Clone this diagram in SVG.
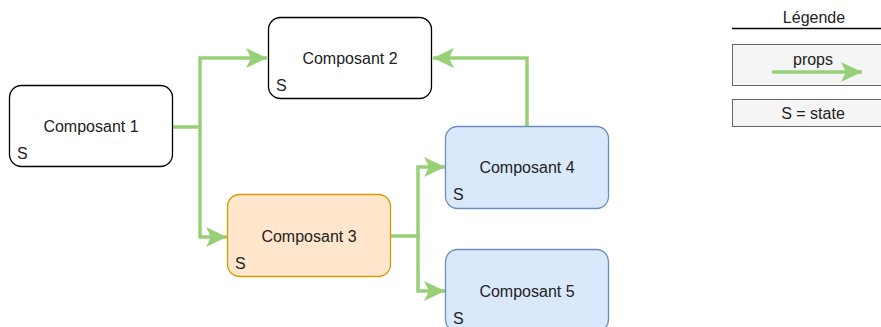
<svg xmlns="http://www.w3.org/2000/svg" width="881" height="327" viewBox="0 0 881 327">
<style>
text{font-family:"Liberation Sans",Arial,sans-serif;font-size:16px;fill:#222}
.c{text-anchor:middle}
.box{stroke-width:1.3}
.w{fill:#fff;stroke:#000}
.o{fill:#ffe6cc;stroke:#d79b00}
.b{fill:#dae8fc;stroke:#6c8ebf}
.lg{fill:#f5f5f5;stroke:#666}
.e{fill:none;stroke:#97d077;stroke-width:3.5}
</style>
<defs>
<marker id="ar" markerUnits="userSpaceOnUse" markerWidth="24" markerHeight="24" viewBox="0 0 24 24" refX="22" refY="12" orient="auto">
<path d="M1,2 L22,12 L1,22 L6,12 Z" fill="#97d077"/>
</marker>
</defs>
<rect width="881" height="327" fill="#fff"/>
<g id="connectors">
<path class="e" d="M173,127 H200 V58 H267" marker-end="url(#ar)"/>
<path class="e" d="M200,127 V237 H227" marker-end="url(#ar)"/>
<path class="e" d="M391,236 H418 V167 H445" marker-end="url(#ar)"/>
<path class="e" d="M418,236 V291 H445" marker-end="url(#ar)"/>
<path class="e" d="M527,126 V58 H433" marker-end="url(#ar)"/>
</g>
<g id="n1"><rect class="box w" x="9.5" y="85.5" width="163" height="81" rx="12"/><text class="c" x="91" y="132">Composant 1</text><text x="17" y="159">S</text></g>
<g id="n2"><rect class="box w" x="268.5" y="17.5" width="163" height="81" rx="12"/><text class="c" x="350" y="64">Composant 2</text><text x="276" y="91">S</text></g>
<g id="n3"><rect class="box o" x="227.5" y="194.5" width="163" height="82" rx="12"/><text class="c" x="309" y="242">Composant 3</text><text x="235" y="269">S</text></g>
<g id="n4"><rect class="box b" x="445.5" y="126.5" width="163" height="82" rx="12"/><text class="c" x="527" y="173">Composant 4</text><text x="453" y="200">S</text></g>
<g id="n5"><rect class="box b" x="445.5" y="249.5" width="163" height="82" rx="12"/><text class="c" x="527" y="297">Composant 5</text><text x="453" y="324">S</text></g>
<g id="legend">
<text class="c" x="814" y="23">Légende</text>
<line x1="732" y1="28.5" x2="890" y2="28.5" stroke="#000" stroke-width="1.3"/>
<rect class="lg" x="732.5" y="44.5" width="160" height="41"/>
<text class="c" x="813" y="65">props</text>
<path class="e" d="M772,72 H862" marker-end="url(#ar)"/>
<rect class="lg" x="732.5" y="99.5" width="160" height="27"/>
<text class="c" x="813" y="119">S = state</text>
</g>
</svg>
